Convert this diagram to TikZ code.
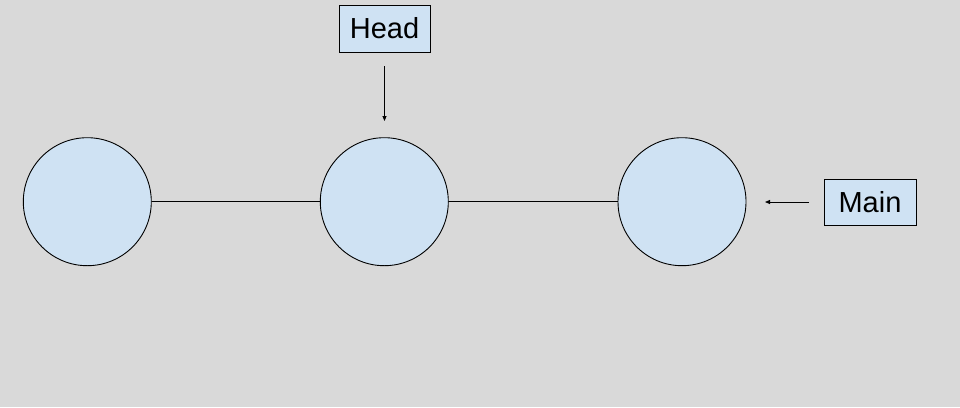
\documentclass[tikz,border=0pt]{standalone}
\usepackage{fontspec}
\setmainfont{Liberation Sans}
\usetikzlibrary{arrows.meta}
\definecolor{bg}{HTML}{D9D9D9}
\definecolor{nodefill}{HTML}{CFE2F3}
\begin{document}
\begin{tikzpicture}[x=1pt,y=-1pt,
  commit/.style={circle,draw=black,fill=nodefill,line width=0.9pt,minimum size=128pt,inner sep=0pt},
  label box/.style={draw=black,fill=nodefill,line width=0.8pt,inner sep=0pt,font=\fontsize{29}{31}\selectfont},
  link/.style={line width=0.9pt,draw=black},
  pointer/.style={line width=0.8pt,draw=black,-{Triangle[length=5pt,width=4pt]}}]
\fill[bg] (0,0) rectangle (960,407);
\useasboundingbox (0,0) rectangle (960,407);
\node[commit] (c1) at (87.3,201.7) {};
\node[commit] (c2) at (384.3,201.7) {};
\node[commit] (c3) at (682,201.7) {};
\node[label box,minimum width=91pt,minimum height=47pt] (head) at (384.5,28.5) {Head};
\node[label box,minimum width=92pt,minimum height=46pt] (main) at (870,202) {Main};
\coordinate (headtip) at (384.5,121);
\coordinate (headstart) at (384.5,66);
\coordinate (maintip) at (765,202);
\coordinate (mainstart) at (809,202);
\draw[link] (c1) -- (c2);
\draw[link] (c2) -- (c3);
\draw[pointer] (headstart) -- (headtip);
\draw[pointer] (mainstart) -- (maintip);
\end{tikzpicture}
\end{document}
